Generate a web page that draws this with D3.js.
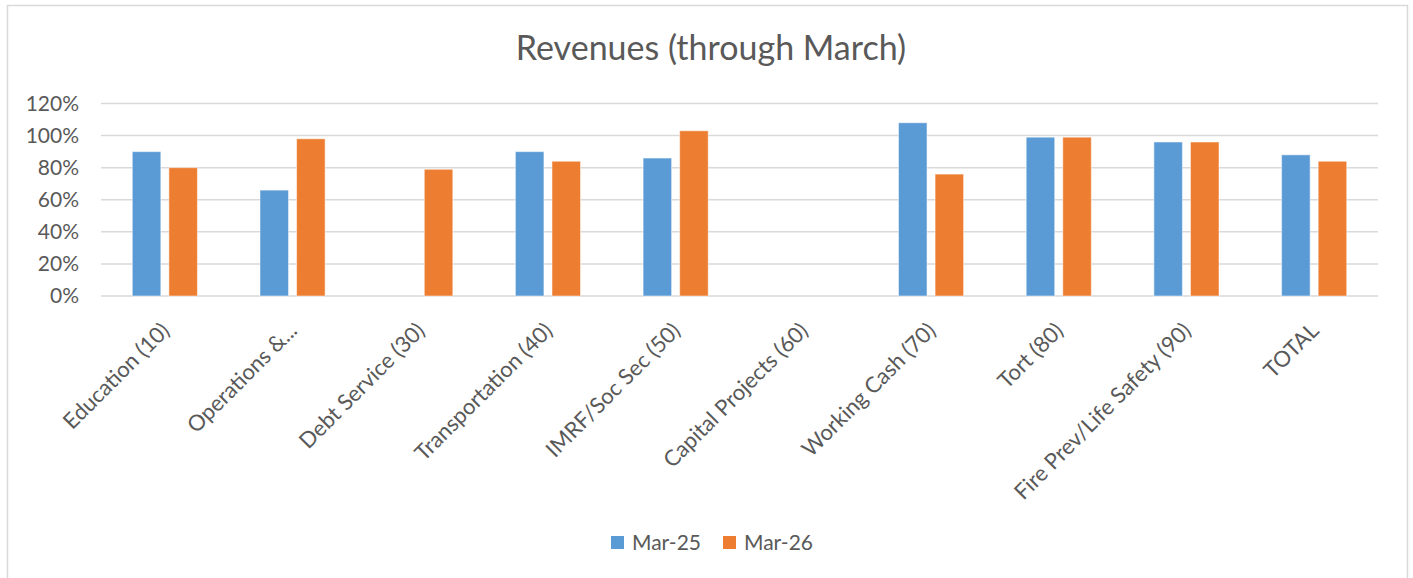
<!DOCTYPE html>
<html>
<head>
<meta charset="utf-8">
<script src="https://cdn.jsdelivr.net/npm/d3@7"></script>
<style>
  body { margin: 0; background: #fff; }
  svg text { font-family: Lato, "Open Sans", sans-serif; fill: #595959; }
</style>
</head>
<body>
<svg id="chart" width="1413" height="578"></svg>
<script>
// dados do gráfico
const categorias = ["Education (10)", "Operations &...", "Debt Service (30)", "Transportation (40)",
    "IMRF/Soc Sec (50)", "Capital Projects (60)", "Working Cash (70)", "Tort (80)",
    "Fire Prev/Life Safety (90)", "TOTAL"];
const series = ["Mar-25", "Mar-26"];
const valoresMar25 = [0.90, 0.66, null, 0.90, 0.86, null, 1.08, 0.99, 0.96, 0.88];
const valoresMar26 = [0.80, 0.98, 0.79, 0.84, 1.03, null, 0.76, 0.99, 0.96, 0.84];
const ticksY = [0, 0.2, 0.4, 0.6, 0.8, 1.0, 1.2];

const cores = { "Mar-25": "#5B9BD5", "Mar-26": "#ED7D31" };
const svg = d3.select("#chart");

// moldura
svg.append("rect")
    .attr("x", 7.5).attr("y", 5.5)
    .attr("width", 1400).attr("height", 600)
    .attr("fill", "none").attr("stroke", "#d9d9d9").attr("stroke-width", 1.5);

// título
svg.append("text")
    .attr("x", 711).attr("y", 60)
    .attr("text-anchor", "middle")
    .attr("font-size", 34)
    .text("Revenues (through March)");

const x0 = d3.scaleBand()
    .domain(categorias)
    .range([101, 1378])
    .paddingInner(0.49)
    .paddingOuter(0.245);

const x1 = d3.scaleBand()
    .domain(series)
    .range([0, x0.bandwidth()])
    .paddingInner(0.22);

const y = d3.scaleLinear().domain([0, 1.2]).range([296, 103.5]);

// grelha
svg.append("g").selectAll("line")
    .data(ticksY)
    .enter().append("line")
    .attr("x1", 101).attr("x2", 1378)
    .attr("y1", d => y(d)).attr("y2", d => y(d))
    .attr("stroke", "#d9d9d9").attr("stroke-width", 1.5);

// eixo Y
const eixoY = svg.append("g")
    .attr("transform", "translate(79,0)")
    .call(d3.axisLeft(y).tickValues(ticksY).tickFormat(d3.format(".0%")).tickSize(0).tickPadding(0));
eixoY.select(".domain").remove();
eixoY.selectAll("text")
    .attr("font-size", 21)
    .attr("font-family", "Lato, 'Open Sans', sans-serif")
    .attr("fill", "#595959");

// barras
const dados = categorias.map((c, i) => ({
    categoria: c,
    valores: [
        { serie: "Mar-25", valor: valoresMar25[i] },
        { serie: "Mar-26", valor: valoresMar26[i] }
    ]
}));

svg.append("g").selectAll("g")
    .data(dados)
    .enter().append("g")
    .attr("transform", d => `translate(${x0(d.categoria)},0)`)
    .selectAll("rect")
    .data(d => d.valores.filter(v => v.valor !== null))
    .enter().append("rect")
    .attr("x", d => x1(d.serie))
    .attr("width", x1.bandwidth())
    .attr("y", d => y(d.valor))
    .attr("height", d => y(0) - y(d.valor))
    .attr("fill", d => cores[d.serie])
    .attr("stroke", "#fff").attr("stroke-opacity", 0.5).attr("stroke-width", 1);

// eixo X (rótulos rodados)
const eixoX = svg.append("g")
    .attr("transform", "translate(0,296)")
    .call(d3.axisBottom(x0).tickSize(0).tickPadding(0));
eixoX.select(".domain").remove();
eixoX.selectAll("text")
    .attr("font-size", 22)
    .attr("font-family", "Lato, 'Open Sans', sans-serif")
    .attr("fill", "#595959")
    .attr("text-anchor", "end")
    .attr("dy", null)
    .attr("transform", "translate(6,36) rotate(-45)");

// legenda
const legenda = svg.append("g").attr("transform", "translate(611,536)");
const itens = legenda.selectAll("g")
    .data(series)
    .enter().append("g")
    .attr("transform", (d, i) => `translate(${i * 112},0)`);
itens.append("rect")
    .attr("width", 13).attr("height", 13)
    .attr("fill", d => cores[d]);
itens.append("text")
    .attr("x", 21).attr("y", 14)
    .attr("font-size", 21)
    .text(d => d);
</script>
</body>
</html>
